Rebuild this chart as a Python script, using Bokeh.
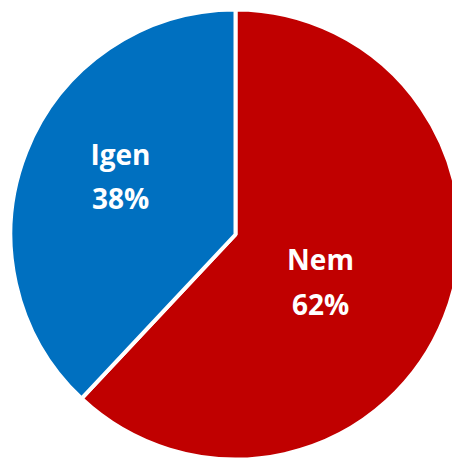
import math
from bokeh.plotting import figure
from bokeh.models import Range1d, ColumnDataSource
from bokeh.core.properties import value
from bokeh.embed import file_html
from bokeh.resources import INLINE

# data
categories = ["Nem", "Igen"]
shares = [62, 38]
colors = ["#C00000", "#0070C0"]

# layout (pixel-like data units)
W, H = 452, 458
OX, OY = 1, 1
cx, cy, r = 236, -235, 225
label_pos = {"Nem": (321, -259, -304), "Igen": (121, -154, -198)}

# angles: start at top, clockwise
starts, ends = [], []
acc = 0.0
total = sum(shares)
for s in shares:
    a0 = acc
    acc += s / total * 2 * math.pi
    starts.append(math.pi / 2 - acc)
    ends.append(math.pi / 2 - a0)

src = ColumnDataSource(dict(cat=categories, start=starts, end=ends, color=colors))

p = figure(width=W, height=H, output_backend="svg", toolbar_location=None,
           x_range=Range1d(OX, OX + W), y_range=Range1d(-OY - H, -OY),
           min_border=0)
p.axis.visible = False
p.grid.visible = False
p.outline_line_color = None
p.background_fill_color = "white"

p.wedge(x=cx, y=cy, radius=r, start_angle="start", end_angle="end",
        fill_color="color", line_color="white", line_width=4, source=src)

tx, ty, tt = [], [], []
for c, s in zip(categories, shares):
    x, y1, y2 = label_pos[c]
    tx += [x, x]
    ty += [y1, y2]
    tt += [c, f"{s}%"]
p.text(x=tx, y=ty, text=tt, text_align="center", text_baseline="middle",
       text_color="white", text_font=value("Open Sans"), text_font_style="bold",
       text_font_size="28px")

open("out.html", "w").write(file_html(p, INLINE))
